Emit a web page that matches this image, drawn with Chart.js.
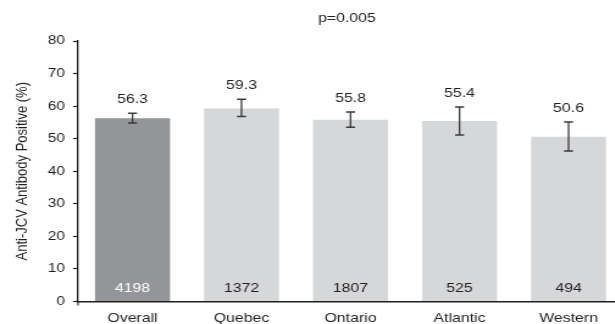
<!DOCTYPE html>
<html>
<head>
<meta charset="utf-8">
<script src="https://cdn.jsdelivr.net/npm/chart.js@4/dist/chart.umd.min.js"></script>
<style>
  html, body { margin: 0; padding: 0; background: #fff; overflow: hidden; }
  #frame { width: 615px; height: 324px; overflow: hidden; }
  /* the artwork is laid out narrow and widened horizontally */
  #stretch { width: 516px; height: 324px; transform: scaleX(1.22); transform-origin: 0 0; }
  canvas { display: block; }
</style>
</head>
<body>
<div id="frame"><div id="stretch"><canvas id="chart" width="516" height="324"></canvas></div></div>
<script>
// Anti-JCV antibody positivity by region, with 95% CI and patient counts
const regions = ['Overall', 'Quebec', 'Ontario', 'Atlantic', 'Western'];
const positivity = [56.3, 59.3, 55.8, 55.4, 50.6];
const ciLower = [54.8, 56.8, 53.5, 51.1, 46.2];
const ciUpper = [57.8, 62.1, 58.2, 59.7, 55.1];
const patients = [4198, 1372, 1807, 525, 494];
const pValueText = 'p=0.005';
const yAxisTitle = 'Anti-JCV Antibody Positive (%)';

const INK = '#231f20';
const FONT = 'Liberation Sans, Arial, sans-serif';

// Error bars, value labels, counts and the p-value caption
const annotate = {
  id: 'annotate',
  afterDatasetsDraw(chart) {
    const { ctx, chartArea, scales: { x, y } } = chart;
    const base = y.getPixelForValue(0);
    ctx.save();
    // small stub under the axis origin
    ctx.strokeStyle = INK;
    ctx.lineWidth = 1.1;
    ctx.beginPath();
    ctx.moveTo(chartArea.left, base);
    ctx.lineTo(chartArea.left, base + 4);
    ctx.stroke();

    ctx.font = '13px ' + FONT;
    ctx.textAlign = 'center';
    ctx.textBaseline = 'middle';
    regions.forEach((r, i) => {
      const cx = x.getPixelForValue(i);
      const yTop = y.getPixelForValue(ciUpper[i]);
      const yBot = y.getPixelForValue(ciLower[i]);
      ctx.strokeStyle = '#3b3b3b';
      ctx.lineWidth = 1.3;
      ctx.beginPath();
      ctx.moveTo(cx, yTop); ctx.lineTo(cx, yBot);
      ctx.stroke();
      ctx.lineWidth = 1.5;
      ctx.beginPath();
      ctx.moveTo(cx - 3.7, yTop); ctx.lineTo(cx + 3.7, yTop);
      ctx.moveTo(cx - 3.7, yBot); ctx.lineTo(cx + 3.7, yBot);
      ctx.stroke();

      ctx.fillStyle = INK;
      ctx.fillText(positivity[i].toFixed(1), cx, yTop - 14);

      ctx.fillStyle = i === 0 ? '#ffffff' : INK;
      ctx.fillText(String(patients[i]), cx, base - 13);
    });

    ctx.fillStyle = INK;
    ctx.fillText(pValueText, (chartArea.left + chartArea.right) / 2 - 3, 18);
    ctx.restore();
  }
};

new Chart(document.getElementById('chart'), {
  type: 'bar',
  data: {
    labels: regions,
    datasets: [{
      data: positivity,
      backgroundColor: regions.map((r, i) => i === 0 ? '#949599' : '#d6d7d9'),
      borderWidth: 0,
      categoryPercentage: 1,
      barPercentage: 0.688
    }]
  },
  options: {
    responsive: false,
    animation: false,
    devicePixelRatio: 1,
    layout: { padding: { top: 41, right: 5.3, left: 0, bottom: 0 } },
    plugins: { legend: { display: false }, tooltip: { enabled: false }, title: { display: false } },
    scales: {
      x: {
        grid: { display: false, drawTicks: false },
        border: { display: true, color: INK, width: 1.5 },
        ticks: { color: INK, font: { family: FONT, size: 13 }, padding: 9, maxRotation: 0 },
        afterFit(scale) { scale.height = 22.5; }
      },
      y: {
        min: 0, max: 80,
        ticks: { stepSize: 10, color: INK, font: { family: FONT, size: 12.5 }, padding: 6.6 },
        grid: { drawOnChartArea: false, drawTicks: true, tickLength: 4.1, color: INK, tickWidth: 1.2 },
        border: { display: true, color: INK, width: 1.3 },
        title: { display: true, text: yAxisTitle, color: INK, font: { family: FONT, size: 13 }, padding: { top: 11, bottom: 0 } },
        afterFit(scale) { scale.width = 63.93; }
      }
    }
  },
  plugins: [annotate]
});
</script>
</body>
</html>
